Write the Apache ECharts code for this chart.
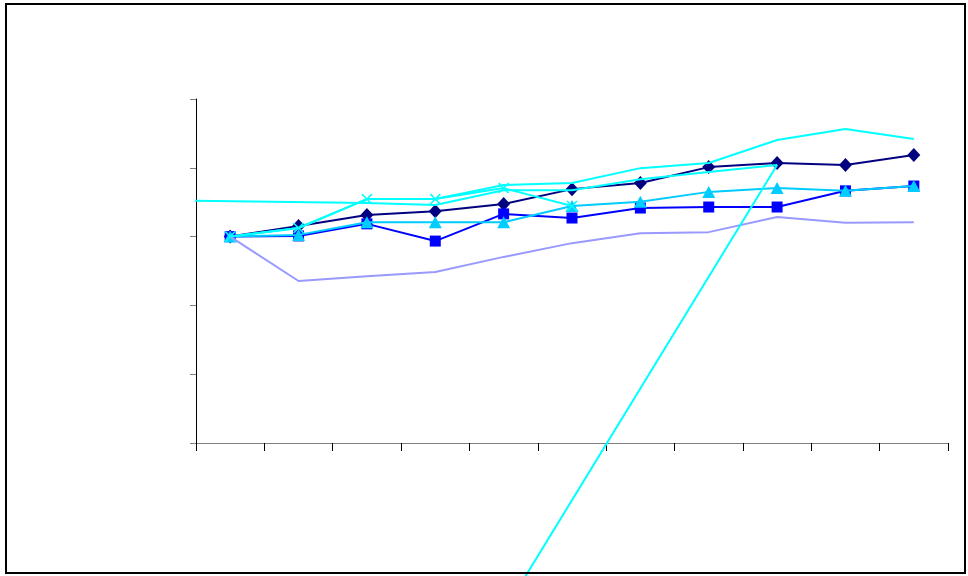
<!DOCTYPE html>
<html>
<head>
<meta charset="utf-8">
<script src="https://cdn.jsdelivr.net/npm/echarts@6/dist/echarts.min.js"></script>
<style>html,body{margin:0;padding:0;background:#fff}#c{width:968px;height:576px}</style>
</head>
<body>
<div id="c"></div>
<script>
// periods (category index 1..11), plotted at centres
const periods = [1,2,3,4,5,6,7,8,9,10,11];
const navySeries = [100,103.1,106.3,107.4,109.5,113.8,115.6,120.2,121.4,120.8,123.7];
const blueSeries = [100,100.2,103.7,98.7,106.6,105.4,108.3,108.6,108.6,113.3,114.7];
const skySeries  = [100,100.5,104.2,104.2,104.2,108.9,110.1,113.0,114.1,113.3,114.7];
const crossSeries= [100,102.5,110.9,110.9,114.1,108.9,null,null,null,null,null];
const lavSeries  = [100,87.1,88.5,89.7,94.1,98.1,101.0,101.3,105.7,104.0,104.2];
const topSeries  = [100,102.5,110.9,110.9,115.0,115.6,119.9,121.4,128.1,131.3,128.4];
// stray series: x in period units (centre = period - 0.5), includes off-range points
const strayX = [-4, 2.5, 3.5, 4.5, 5.5, 6.5, 7.5, 8.5, 4.78];
const strayY = [111.5, 109.8, 109.2, 113.5, 113.5, 116.7, 118.8, 120.8, 0];
const yTicks = [40, 60, 80, 100, 120, 140];

function pts(vals){ return periods.map((p,i)=> vals[i]==null ? [p-0.5, null] : [p-0.5, vals[i]]); }

const crossPath = 'path://M0,1L1,0L5,4L9,0L10,1L6,5L10,9L9,10L5,6L1,10L0,9L4,5Z';

function line(name, color, data, symbol, size, z){
  return {
    name, type:'line', data, clip:false, z,
    symbol: symbol || 'none', symbolSize: size || 0, showSymbol: !!symbol,
    lineStyle:{color, width:2}, itemStyle:{color, borderWidth:0},
    connectNulls:false, animation:false
  };
}

const chart = echarts.init(document.getElementById('c'), null, {renderer:'canvas'});
chart.setOption({
  animation:false,
  backgroundColor:'#ffffff',
  grid:{left:196, top:99, right:20, bottom:133, containLabel:false},
  xAxis:{type:'value', min:0, max:periods.length, interval:1,
    axisLine:{show:true, onZero:false, lineStyle:{color:'#808080', width:1}},
    axisTick:{show:true, inside:false, length:8, lineStyle:{color:'#000000', width:1}},
    axisLabel:{show:false}, splitLine:{show:false}},
  yAxis:{type:'value', min:yTicks[0], max:yTicks[yTicks.length-1], interval:yTicks[1]-yTicks[0],
    axisLine:{show:true, onZero:false, lineStyle:{color:'#000000', width:1}},
    axisTick:{show:true, inside:false, length:6, lineStyle:{color:'#808080', width:1}},
    axisLabel:{show:false}, splitLine:{show:false}},
  graphic:[{type:'rect', shape:{x:6, y:4, width:959, height:569},
    style:{fill:'none', stroke:'#000000', lineWidth:2}, z:100, silent:true}],
  series:[
    line('s1', '#000080', pts(navySeries), 'diamond', [13,14], 2),
    line('s2', '#0000FF', pts(blueSeries), 'rect', 11, 3),
    line('s3', '#00CCFF', pts(skySeries), 'triangle', [13,12], 4),
    line('s4', '#00FFFF', pts(crossSeries), crossPath, 11, 5),
    line('s5', '#9999FF', pts(lavSeries), null, 0, 6),
    line('s6', '#00FFFF', pts(topSeries), null, 0, 7),
    line('s7', '#00FFFF', strayX.map((x,i)=>[x, strayY[i]]), null, 0, 8)
  ]
});
</script>
</body>
</html>
